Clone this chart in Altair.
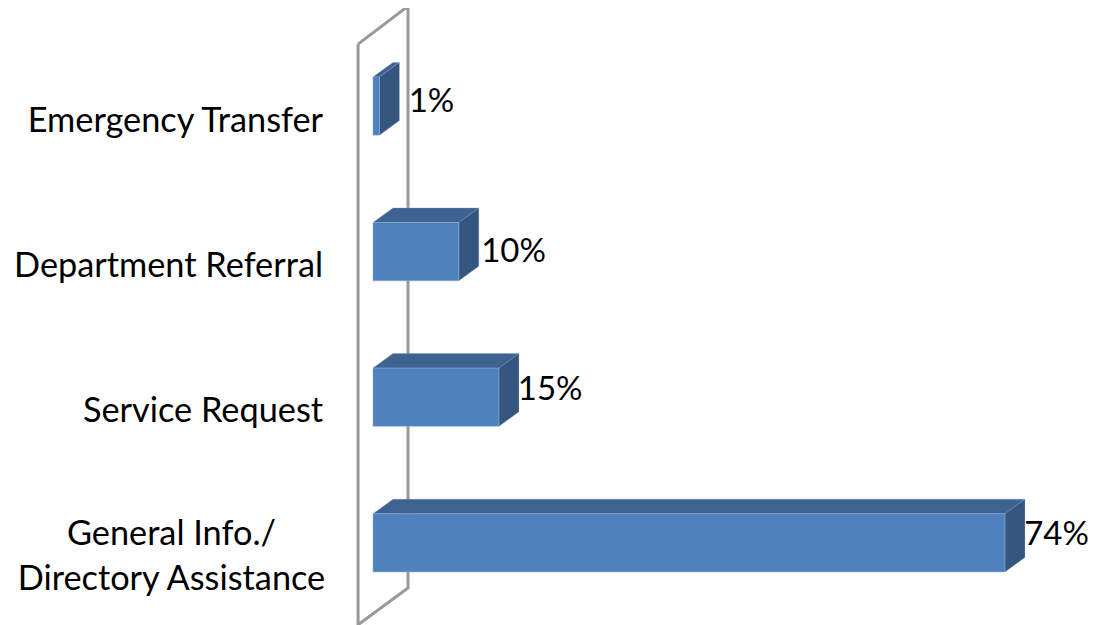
import altair as alt
import pandas as pd

# categories in rows, bottom (0) to top (3)
rows = [0, 1, 2, 3]
values = [74.0, 14.75, 10.05, 0.75]
value_labels = ["74%", "15%", "10%", "1%"]
value_label_x = [76.25, 16.95, 12.67, 4.18]
value_label_y = [0.056, 1.052, 1.996, 3.03]
cat_labels = ["Service Request", "Department Referral", "Emergency Transfer"]
cat_label_y = [0.9, 1.893, 2.893]
two_line_labels = ["General Info./", "Directory Assistance"]
two_line_y = [0.056, -0.254]
wall_x = [-1.75, 4.1, 4.1, -1.75, -1.75]
wall_y = [3.425, 3.686, -0.31, -0.563, 3.425]

HALF = 0.2      # half of a bar's thickness, in row units
DX = 2.34       # depth of the 3-D bars along x, in percent
DY = 0.1        # depth of the 3-D bars along y, in row units

WIDTH = 1081
x_scale = alt.Scale(domain=[-42.74, -42.74 + WIDTH / 8.54], nice=False, zero=False)
y_scale = alt.Scale(domain=[-0.5645, 3.6735], nice=False, zero=False)
X = lambda f: alt.X(f, type="quantitative", scale=x_scale, axis=None)
Y = lambda f: alt.Y(f, type="quantitative", scale=y_scale, axis=None)

front, top, side = [], [], []
for r, v in zip(rows, values):
    yb = r + HALF
    yt = yb + DY
    front.append({"x": 0, "x2": v, "y": r - HALF, "y2": r + HALF})
    for x in sorted({0, DX, v, v + DX}):
        upper = yb + DY * min(1, x / DX)
        lower = yb + DY * max(0, (x - v) / DX)
        top.append({"r": r, "x": x, "y": upper, "y2": lower})
    for x, s in ((v, 0), (v + DX, 1)):
        side.append({"r": r, "x": x, "y": yb + DY * s, "y2": r - HALF + DY * s})

wall = alt.Chart(pd.DataFrame({"x": wall_x, "y": wall_y, "o": range(5)})).mark_line(
    color="#999999", strokeWidth=3, clip=False, strokeJoin="miter"
).encode(x=X("x"), y=Y("y"), order="o:Q")

front_l = alt.Chart(pd.DataFrame(front)).mark_rect(
    color="#4f81bd", stroke="#8eaedb", strokeWidth=0.8, strokeOpacity=0.7
).encode(x=X("x"), x2="x2", y=Y("y"), y2="y2")

top_l = alt.Chart(pd.DataFrame(top)).mark_area(
    color="#3e6391", line=False, stroke="#7f9cc4", strokeWidth=0.6, strokeOpacity=0.6
).encode(x=X("x"), y=Y("y"), y2="y2", detail="r:N")

side_l = alt.Chart(pd.DataFrame(side)).mark_area(
    color="#34567f", stroke="#7f9cc4", strokeWidth=0.5, strokeOpacity=0.5
).encode(x=X("x"), y=Y("y"), y2="y2", detail="r:N")

FONT = "Lato"
VAL_SIZE = 33
CAT_SIZE = 34.3
val_l = alt.Chart(pd.DataFrame({"x": value_label_x, "y": value_label_y, "t": value_labels})).mark_text(
    align="left", baseline="middle", font=FONT, fontSize=VAL_SIZE, color="#000000"
).encode(x=X("x"), y=Y("y"), text="t:N")

cat_l = alt.Chart(pd.DataFrame({"y": cat_label_y, "t": cat_labels, "x": [-5.85] * 3})).mark_text(
    align="right", baseline="middle", font=FONT, fontSize=CAT_SIZE, color="#000000"
).encode(x=X("x"), y=Y("y"), text="t:N")

two_l = alt.Chart(pd.DataFrame({"y": two_line_y, "t": two_line_labels, "x": [-23.6] * 2})).mark_text(
    align="center", baseline="middle", font=FONT, fontSize=CAT_SIZE, color="#000000"
).encode(x=X("x"), y=Y("y"), text="t:N")

chart = alt.layer(wall, top_l, side_l, front_l, val_l, cat_l, two_l).properties(
    width=WIDTH, height=617, padding=0, autosize=alt.AutoSizeParams(type="none"),
    background="white",
).configure_view(stroke=None)

chart.save("out.html", embed_options={"renderer": "svg", "actions": False})
